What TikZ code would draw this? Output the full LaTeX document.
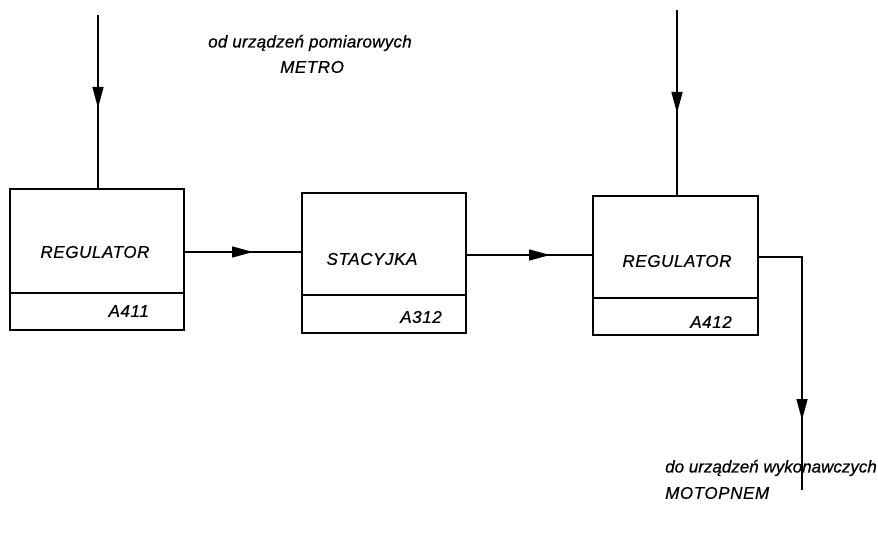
\documentclass[tikz,border=0pt]{standalone}
\usepackage{fontspec}
\setmainfont{Liberation Sans}[LetterSpace=3.5,FakeBold=0.6]
\usetikzlibrary{arrows.meta,decorations.markings,positioning}
\begin{document}
\begin{tikzpicture}[x=1pt,y=-1pt,
  font=\fontsize{17}{19}\selectfont\itshape,
  blk/.style={draw,line width=2.6pt,inner sep=0pt,outer sep=0pt,minimum width=#1},
  conn/.style={line width=1.4pt},
  tipat/.style={postaction={decorate},decoration={markings,
     mark=at position #1 with {\arrow{Triangle[length=21pt,width=11pt]}}}},
  lbl/.style={inner sep=0pt,anchor=center},
  idl/.style={inner sep=0pt,anchor=east},
  note/.style={inner sep=0pt,anchor=west}]
\useasboundingbox (0,0) rectangle (878,553);
% boxes
\node[blk=174pt,minimum height=104pt] (b1) at (97,241) {};
\node[blk=174pt,minimum height=37pt,below=0pt of b1] (b1id) {};
\node[blk=164pt,minimum height=102pt] (b2) at (384,244) {};
\node[blk=164pt,minimum height=38pt,below=0pt of b2] (b2id) {};
\node[blk=165pt,minimum height=102pt] (b3) at (675.5,247) {};
\node[blk=165pt,minimum height=37pt,below=0pt of b3] (b3id) {};
% texts in boxes
\node[lbl] (t1) at (95,252) {REGULATOR};
\node[lbl] (t2) at (372,259) {STACYJKA};
\node[lbl] (t3) at (677,261) {REGULATOR};
\node[idl] (i1) at (149,311) {A411};
\node[idl] (i2) at (442,317) {A312};
\node[idl] (i3) at (732,322) {A412};
% free ends
\coordinate (in1) at (98,15);
\coordinate (in3) at (677,10);
\coordinate (out3) at (802,490);
% connectors
\draw[conn,tipat=93pt] (in1) -- (b1.north -| in1);
\draw[conn,tipat=103pt] (in3) -- (b3.north -| in3);
\draw[conn,tipat=69pt] ([yshift=-11pt]b1.east) -- ([yshift=-11pt]b1.east -| b2.west);
\draw[conn,tipat=84pt] ([yshift=-11pt]b2.east) -- ([yshift=-11pt]b2.east -| b3.west);
\draw[conn,tipat=207pt] ([yshift=-10pt]b3.east) -- ([yshift=-10pt]b3.east -| out3) -- (out3);
% outer texts
\node[note] (src) at (208,43) {\addfontfeature{LetterSpace=1.5}od urządzeń pomiarowych};
\node[note] (srcn) at (280,67) {METRO};
\node[note] (dst) at (665,468) {\addfontfeature{LetterSpace=0}do urządzeń wykonawczych};
\node[note] (dstn) at (665,493) {MOTOPNEM};
\end{tikzpicture}
\end{document}
